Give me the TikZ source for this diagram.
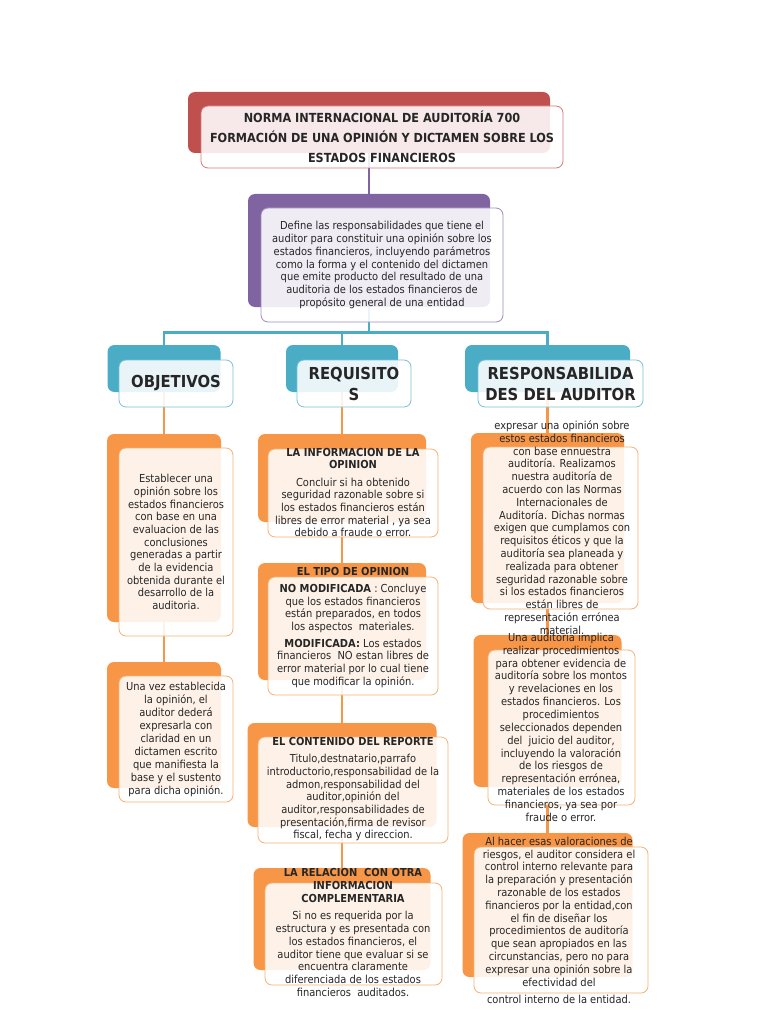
\documentclass[tikz,border=0pt]{standalone}
\usepackage{fontspec}
\setmainfont{DejaVu Sans Condensed}
\usepackage{xcolor}
\usetikzlibrary{
  backgrounds
}
\definecolor{MapRed}{HTML}{C0504D}
\definecolor{MapPurple}{HTML}{8064A2}
\definecolor{MapBlue}{HTML}{4BACC6}
\definecolor{MapOrange}{HTML}{F79646}
\definecolor{MapText}{HTML}{262626}
\newcommand{\mapbody}{\fontsize{11}{12.7}\selectfont}
\newcommand{\maptitle}{\fontsize{12.5}{20}\selectfont\bfseries}
\newcommand{\maphead}{\fontsize{16.5}{21}\selectfont\bfseries}
\tikzset{
  backcard/.style={
    fill=#1,
    rounded corners=7pt,
    inner sep=0pt
  },
  frontcard/.style={
    draw=#1!75,
    line width=0.8pt,
    fill=white,
    fill opacity=0.88,
    text opacity=1,
    rounded corners=7pt,
    inner sep=0pt,
    align=center,
    text=MapText
  },
  cardtext/.style={
    align=center,
    inner sep=0pt,
    text=MapText
  },
  treeline/.style={
    draw=#1,
    line width=2.5pt
  }
}

\begin{document}
\begin{tikzpicture}[
  x=1pt,
  y=-1pt,
  font=\mapbody
]

  \useasboundingbox (0,0) rectangle (768,1024);

  % title
  \node[
    backcard=MapRed,
    minimum width=362pt,
    minimum height=61pt
  ] (titleback) at (369,122.5) {};
  \node[
    frontcard=MapRed,
    minimum width=362pt,
    minimum height=62pt,
    font=\maptitle
  ] (title) at (382,137) {
    NORMA INTERNACIONAL DE AUDITORÍA 700\\
    FORMACIÓN DE UNA OPINIÓN Y DICTAMEN SOBRE LOS\\
    ESTADOS FINANCIEROS
  };

  % purpose
  \node[
    backcard=MapPurple,
    minimum width=242pt,
    minimum height=113pt
  ] (purposeback) at (369,250.5) {};
  \node[
    frontcard=MapPurple,
    minimum width=242pt,
    minimum height=114pt
  ] (purpose) at (382,265) {
    Define las responsabilidades que tiene el\\
    auditor para constituir una opinión sobre los\\
    estados financieros, incluyendo parámetros\\
    como la forma y el contenido del dictamen\\
    que emite producto del resultado de una\\
    auditoria de los estados financieros de\\
    propósito general de una entidad
  };

  % headers
  \node[
    backcard=MapBlue,
    minimum width=113pt,
    minimum height=47pt
  ] (objback) at (164,368.5) {};
  \node[
    frontcard=MapBlue,
    minimum width=114pt,
    minimum height=47pt,
    font=\maphead
  ] (obj) at (176,383.5) {OBJETIVOS};

  \node[
    backcard=MapBlue,
    minimum width=112pt,
    minimum height=47pt
  ] (reqback) at (342,368.5) {};
  \node[
    frontcard=MapBlue,
    minimum width=114pt,
    minimum height=47pt,
    font=\maphead
  ] (req) at (354,383.5) {REQUISITO\\S};

  \node[
    backcard=MapBlue,
    minimum width=165pt,
    minimum height=47pt
  ] (respback) at (547.5,368.5) {};
  \node[
    frontcard=MapBlue,
    minimum width=165pt,
    minimum height=47pt,
    font=\maphead
  ] (resp) at (560.5,383.5) {RESPONSABILIDA\\DES DEL AUDITOR};

  % objetivos
  \node[
    backcard=MapOrange,
    minimum width=114pt,
    minimum height=188pt
  ] (o1back) at (164,528) {};
  \node[
    frontcard=MapOrange,
    minimum width=114pt,
    minimum height=188pt
  ] (o1) at (176,542) {
    Establecer una\\
    opinión sobre los\\
    estados financieros\\
    con base en una\\
    evaluacion de las\\
    conclusiones\\
    generadas a partir\\
    de la evidencia\\
    obtenida durante el\\
    desarrollo de la\\
    auditoria.
  };

  \node[
    backcard=MapOrange,
    minimum width=114pt,
    minimum height=126pt
  ] (o2back) at (164,725) {};
  \node[
    frontcard=MapOrange,
    minimum width=114pt,
    minimum height=126pt,
    font=\fontsize{11}{13}\selectfont
  ] (o2) at (176,739) {
    Una vez establecida\\
    la opinión, el\\
    auditor dederá\\
    expresarla con\\
    claridad en un\\
    dictamen escrito\\
    que manifiesta la\\
    base y el sustento\\
    para dicha opinión.
  };

  % requisitos
  \node[
    backcard=MapOrange,
    minimum width=168pt,
    minimum height=88pt
  ] (m1back) at (342,478) {};
  \node[
    frontcard=MapOrange,
    minimum width=170pt,
    minimum height=88pt
  ] (m1) at (353,493) {};
  \node[cardtext] (m1text) at (353,492.5) {
    \textbf{LA INFORMACION DE LA}\\
    \textbf{OPINION}\\[4.5pt]
    Concluir si ha obtenido\\
    seguridad razonable sobre si\\
    los estados financieros están\\
    libres de error material , ya sea\\
    debido a fraude o error.
  };

  \node[
    backcard=MapOrange,
    minimum width=168pt,
    minimum height=117pt
  ] (m2back) at (342,621.5) {};
  \node[
    frontcard=MapOrange,
    minimum width=170pt,
    minimum height=118pt
  ] (m2) at (353,636) {};
  \node[cardtext] (m2text) at (353,627.5) {
    \textbf{EL TIPO DE OPINION}\\[4pt]
    \textbf{NO MODIFICADA} : Concluye\\
    que los estados financieros\\
    están preparados, en todos\\
    los aspectos\ \ materiales.\\[4pt]
    \textbf{MODIFICADA:} Los estados\\
    financieros\ \ NO estan libres de\\
    error material por lo cual tiene\\
    que modificar la opinión.
  };

  \node[
    backcard=MapOrange,
    minimum width=189pt,
    minimum height=104pt
  ] (m3back) at (342,775) {};
  \node[
    frontcard=MapOrange,
    minimum width=190pt,
    minimum height=106pt
  ] (m3) at (353,790) {};
  \node[cardtext] (m3text) at (353,789.5) {
    \textbf{EL CONTENIDO DEL REPORTE}\\[4pt]
    Titulo,destnatario,parrafo\\
    introductorio,responsabilidad de la\\
    admon,responsabilidad del\\
    auditor,opinión del\\
    auditor,responsabilidades de\\
    presentación,firma de revisor\\
    fiscal, fecha y direccion.
  };

  \node[
    backcard=MapOrange,
    minimum width=177pt,
    minimum height=102pt
  ] (m4back) at (342,919) {};
  \node[
    frontcard=MapOrange,
    minimum width=177pt,
    minimum height=102pt
  ] (m4) at (353.5,934) {};
  \node[cardtext] (m4text) at (353,932.5) {
    \textbf{LA RELACION\ \ CON OTRA}\\
    \textbf{INFORMACION}\\
    \textbf{COMPLEMENTARIA}\\[5pt]
    Si no es requerida por la\\
    estructura y es presentada con\\
    los estados financieros, el\\
    auditor tiene que evaluar si se\\
    encuentra claramente\\
    diferenciada de los estados\\
    financieros\ \ auditados.
  };

  % responsabilidades
  \node[
    backcard=MapOrange,
    minimum width=153pt,
    minimum height=170pt
  ] (r1back) at (547.5,518) {};
  \node[
    frontcard=MapOrange,
    minimum width=155pt,
    minimum height=162pt
  ] (r1) at (560.5,528) {};
  \node[
    cardtext,
    font=\fontsize{11}{12.8}\selectfont
  ] (r1text) at (562,527.5) {
    expresar una opinión sobre\\
    estos estados financieros\\
    con base ennuestra\\
    auditoría. Realizamos\\
    nuestra auditoría de\\
    acuerdo con las Normas\\
    Internacionales de\\
    Auditoría. Dichas normas\\
    exigen que cumplamos con\\
    requisitos éticos y que la\\
    auditoría sea planeada y\\
    realizada para obtener\\
    seguridad razonable sobre\\
    si los estados financieros\\
    están libres de\\
    representación errónea\\
    material.
  };

  \node[
    backcard=MapOrange,
    minimum width=148pt,
    minimum height=152pt
  ] (r2back) at (547.5,711) {};
  \node[
    frontcard=MapOrange,
    minimum width=147pt,
    minimum height=155pt
  ] (r2) at (561.5,727.5) {};
  \node[
    cardtext,
    font=\fontsize{11}{12.85}\selectfont
  ] (r2text) at (561,727) {
    Una auditoría implica\\
    realizar procedimientos\\
    para obtener evidencia de\\
    auditoría sobre los montos\\
    y revelaciones en los\\
    estados financieros. Los\\
    procedimientos\\
    seleccionados dependen\\
    del\ \ juicio del auditor,\\
    incluyendo la valoración\\
    de los riesgos de\\
    representación errónea,\\
    materiales de los estados\\
    financieros, ya sea por\\
    fraude o error.
  };

  \node[
    backcard=MapOrange,
    minimum width=170pt,
    minimum height=144pt
  ] (r3back) at (547.5,905) {};
  \node[
    frontcard=MapOrange,
    minimum width=174pt,
    minimum height=146pt
  ] (r3) at (561,920) {};
  \node[
    cardtext,
    font=\fontsize{11}{12.8}\selectfont
  ] (r3text) at (559,920.5) {
    Al hacer esas valoraciones de\\
    riesgos, el auditor considera el\\
    control interno relevante para\\
    la preparación y presentación\\
    razonable de los estados\\
    financieros por la entidad,con\\
    el fin de diseñar los\\
    procedimientos de auditoría\\
    que sean apropiados en las\\
    circunstancias, pero no para\\
    expresar una opinión sobre la\\
    efectividad del\\[5pt]
    control interno de la entidad.
  };

  % connectors
  \begin{scope}[on background layer]
    \fill[white] (0,0) rectangle (768,1024);
    \coordinate (hub) at (369,332.5);
    \draw[treeline=MapPurple] (titleback) -- (purposeback);
    \draw[treeline=MapBlue] (purposeback) -- (hub) -| (objback);
    \draw[treeline=MapBlue] (hub) -| (reqback);
    \draw[treeline=MapBlue] (hub) -| (respback);
    \draw[treeline=MapOrange] (objback) -- (o1back) -- (o2back);
    \draw[treeline=MapOrange] (reqback) -- (m1back) -- (m2back) -- (m3back) -- (m4back);
    \draw[treeline=MapOrange] (respback) -- (r1back) -- (r2back) -- (r3back);
  \end{scope}

\end{tikzpicture}
\end{document}
